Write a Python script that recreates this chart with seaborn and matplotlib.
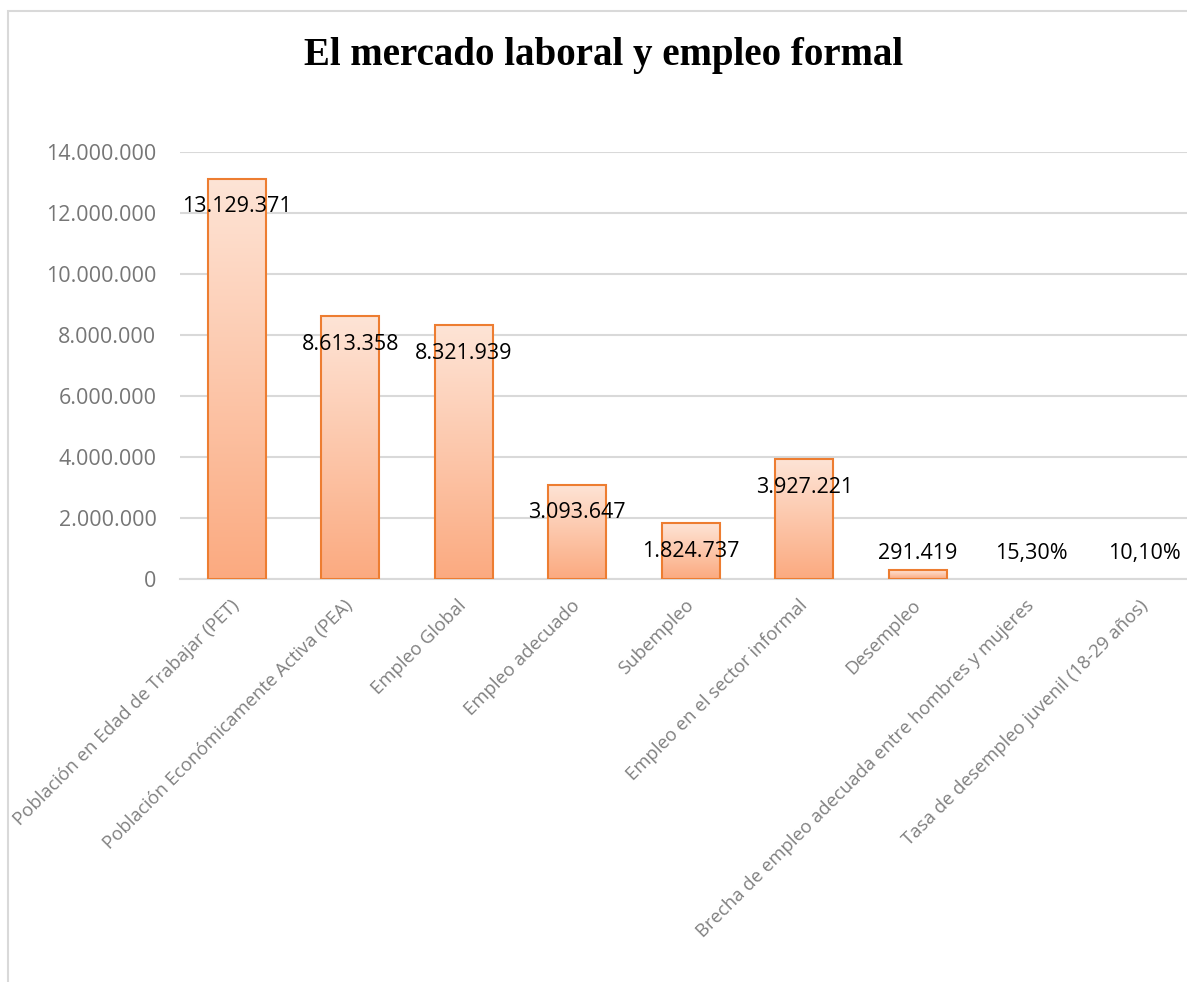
import numpy as np
import pandas as pd
import matplotlib
matplotlib.use('Agg')
import matplotlib.pyplot as plt
import seaborn as sns
from matplotlib.colors import LinearSegmentedColormap
from matplotlib.patches import Rectangle

categorias = [
    'Población en Edad de Trabajar (PET)',
    'Población Económicamente Activa (PEA)',
    'Empleo Global',
    'Empleo adecuado',
    'Subempleo',
    'Empleo en el sector informal',
    'Desempleo',
    'Brecha de empleo adecuada entre hombres y mujeres',
    'Tasa de desempleo juvenil (18-29 años)',
]
valores = [13129371, 8613358, 8321939, 3093647, 1824737, 3927221, 291419, 0.153, 0.101]
yticks = [0, 2000000, 4000000, 6000000, 8000000, 10000000, 12000000, 14000000]


def fmt_num(v):
    return f'{int(v):,}'.replace(',', '.')


def fmt_label(v):
    # los dos últimos valores son tasas
    if v < 1:
        return f'{v * 100:.2f}%'.replace('.', ',')
    return fmt_num(v)


sns.set_theme(style='white')
plt.rcParams['font.family'] = ['Open Sans', 'DejaVu Sans']

df = pd.DataFrame({'cat': categorias, 'val': valores})

W, H = 1187, 982
fig = plt.figure(figsize=(W / 100, H / 100), dpi=100)
ax = fig.add_axes([180 / W, 1 - 579 / H, (W - 180) / W, (579 - 152) / H])

# marco exterior del gráfico
fig.patches.append(Rectangle((8 / W, -0.1), 1.2, 1.1 - 11 / H, transform=fig.transFigure,
                             fill=False, edgecolor='#D9D9D9', linewidth=1.5, zorder=0))

sns.barplot(data=df, x='cat', y='val', ax=ax, width=0.515, color='#FBB28C',
            edgecolor='#ED7D31', linewidth=1.5, zorder=3)

cmap = LinearSegmentedColormap.from_list('grad', ['#FBAA80', '#FEE4D6'])
grad = np.linspace(0, 1, 256).reshape(-1, 1)
for p in ax.patches:
    x0, y0 = p.get_x(), p.get_y()
    w, h = p.get_width(), p.get_height()
    if h < 1000:
        p.set_edgecolor('none')
        p.set_facecolor('none')
        continue
    im = ax.imshow(grad, cmap=cmap, origin='lower', aspect='auto',
                   extent=[x0, x0 + w, y0, y0 + h], zorder=3.5)
    im.set_clip_path(p)
    p.set_facecolor('none')
    p.set_zorder(4)

ax.set_xlim(-0.5, (W - 180) / 113.5 - 0.5)
ax.set_ylim(0, 14000000)
ax.set_yticks(yticks)
ax.set_yticklabels([fmt_num(t) for t in yticks])
ax.yaxis.grid(True, color='#D9D9D9', linewidth=1.5, zorder=0)
ax.set_axisbelow(True)
for s in ['top', 'right', 'left']:
    ax.spines[s].set_visible(False)
ax.spines['bottom'].set_color('#D9D9D9')
ax.spines['bottom'].set_linewidth(1.5)
ax.set_xlabel('')
ax.set_ylabel('')
ax.tick_params(axis='y', length=0, pad=17, labelsize=15.5, labelcolor='#767676')
ax.tick_params(axis='x', length=0, pad=17, labelsize=13.3, labelcolor='#808080')
plt.setp(ax.get_xticklabels(), rotation=45, ha='right', va='center', rotation_mode='anchor')

# etiquetas de datos (extremo interno, dentro del área de trazado)
off = 0.92e6
for i, v in enumerate(valores):
    y = max(v - off, 0.82e6)
    ax.text(i, y, fmt_label(v), ha='center', va='center', fontsize=15.5, color='#000000', zorder=6)

fig.text(604 / W, 1 - 56 / H, 'El mercado laboral y empleo formal', ha='center', va='center',
         fontsize=28, fontweight='bold', color='#000000',
         family=['Liberation Serif', 'DejaVu Serif'])

fig.savefig('out.png', dpi=100, facecolor='white')
